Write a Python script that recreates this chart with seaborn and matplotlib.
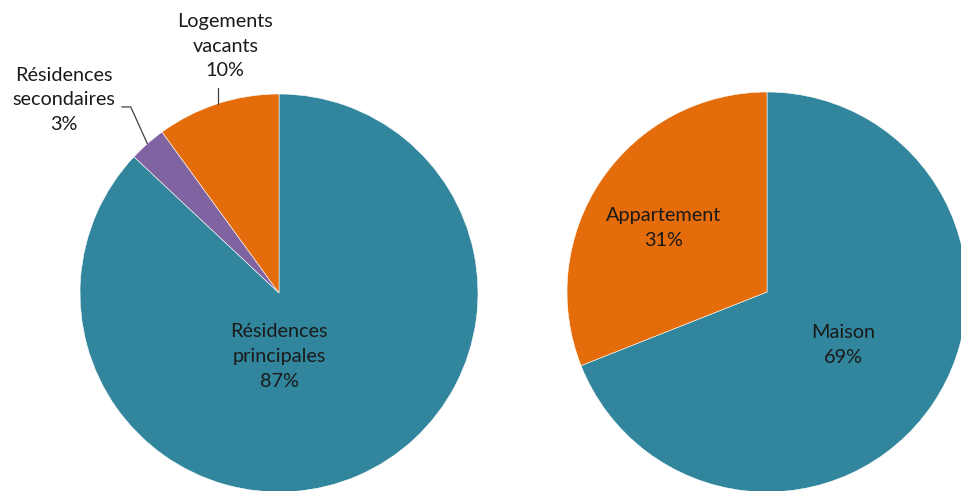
import numpy as np
import matplotlib
matplotlib.use("Agg")
import matplotlib.pyplot as plt
import seaborn as sns

sns.set_theme(style="white")
plt.rcParams['font.family'] = ['Lato', 'DejaVu Sans']

# left pie: type of dwelling use
log_labels = ["Résidences\nprincipales", "Résidences\nsecondaires", "Logements\nvacants"]
log_values = [87, 3, 10]
# right pie: type of building
typ_labels = ["Maison", "Appartement"]
typ_values = [69, 31]

teal = "#31859C"
orange = "#E46C0A"
purple = "#8064A2"
txt = "#1a1a1a"

fig = plt.figure(figsize=(9.61, 4.91), dpi=100)
W, H = 961, 491


def make_ax(x0, y0, size):
    # x0, y0: top-left corner in pixels, size: diameter in pixels
    return fig.add_axes([x0 / W, (H - y0 - size) / H, size / W, size / H])


def fix_limits(ax):
    ax.set_xlim(-1, 1)
    ax.set_ylim(-1, 1)
    ax.set_aspect("equal")
    ax.axis("off")


fs = 14.3
ls = 1.55

ax1 = make_ax(80, 94, 398)
w1, _ = ax1.pie(log_values, colors=[teal, purple, orange], startangle=90,
                counterclock=False, radius=1,
                wedgeprops=dict(linewidth=0.4, edgecolor="white"))
fix_limits(ax1)
for w in w1:
    w.set_clip_on(False)

ax1.text(0, -0.32, f"{log_labels[0]}\n{log_values[0]}%", ha="center", va="center",
         fontsize=fs, color=txt, linespacing=ls)

# outside labels with leader lines
mid = np.deg2rad((w1[1].theta1 + w1[1].theta2) / 2)
ex, ey = np.cos(mid), np.sin(mid)
ax1.plot([ex, -0.745, -0.79], [ey, 0.935, 0.935], color="#404040", lw=0.9, clip_on=False)
ax1.text(-1.08, 0.97, f"{log_labels[1]}\n{log_values[1]}%", ha="center", va="center",
         fontsize=fs, color=txt, linespacing=ls)

mid = np.deg2rad((w1[2].theta1 + w1[2].theta2) / 2)
ex, ey = np.cos(mid), np.sin(mid)
ax1.plot([ex, ex], [ey, 1.03], color="#404040", lw=0.9, clip_on=False)
ax1.text(-0.27, 1.24, f"{log_labels[2]}\n{log_values[2]}%", ha="center", va="center",
         fontsize=fs, color=txt, linespacing=ls)

ax2 = make_ax(567, 92, 400)
w2, _ = ax2.pie(typ_values, colors=[teal, orange], startangle=90,
                counterclock=False, radius=1,
                wedgeprops=dict(linewidth=0.4, edgecolor="white"))
fix_limits(ax2)
for w in w2:
    w.set_clip_on(False)
ax2.text(0.38, -0.265, f"{typ_labels[0]}\n{typ_values[0]}%", ha="center", va="center",
         fontsize=fs, color=txt, linespacing=ls)
ax2.text(-0.515, 0.32, f"{typ_labels[1]}\n{typ_values[1]}%", ha="center", va="center",
         fontsize=fs, color=txt, linespacing=ls)

fig.savefig("out.png", dpi=100)
